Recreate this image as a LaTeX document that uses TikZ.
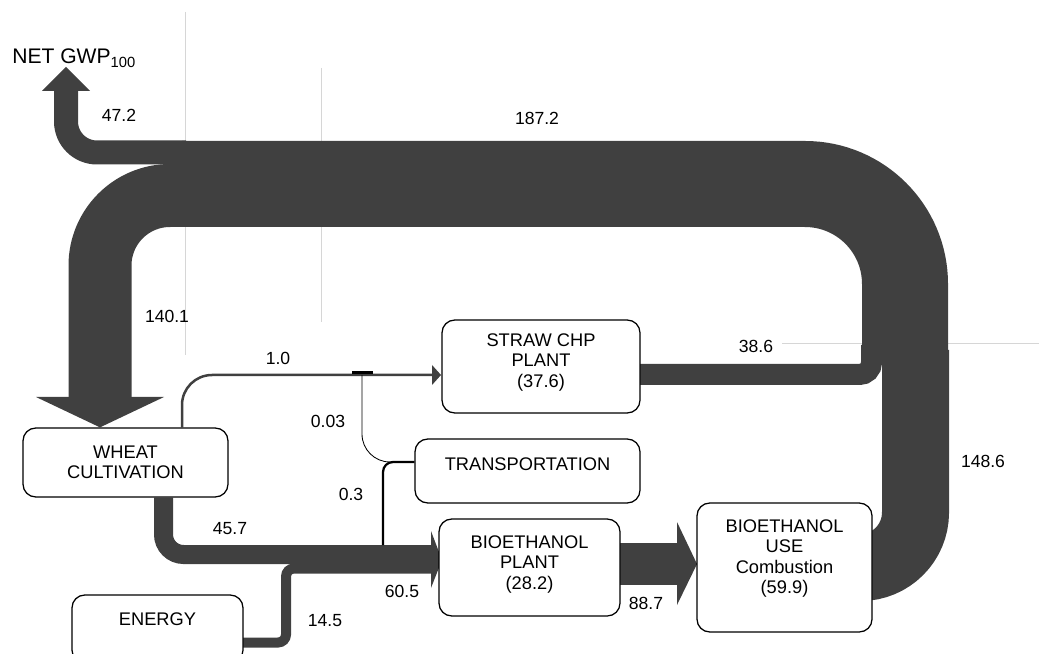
\documentclass[tikz,border=0pt]{standalone}
\usepackage{fontspec}
\setmainfont{Liberation Sans}
\usetikzlibrary{calc, backgrounds}

\definecolor{flowgray}{RGB}{64,64,64}
\definecolor{guidegray}{RGB}{214,214,214}

\begin{document}
\begin{tikzpicture}[
    x=0.25mm, y=-0.25mm,
    box/.style={draw, line width=0.9pt, rounded corners=3.2mm, fill=white,
                align=center, font=\fontsize{13}{14.5}\selectfont},
    lbl/.style={anchor=base, inner sep=0pt, font=\fontsize{12.5}{14}\selectfont},
    flow/.style={draw=flowgray, line width=#1*0.25mm},
    head/.style={fill=flowgray},
    thinline/.style={draw=black, line width=0.6pt},
    tieline/.style={draw=black, line width=1.6pt},
    gridline/.style={draw=guidegray, line width=0.6pt},
]
\useasboundingbox (0,0) rectangle (1039,654);

% Boxes (pixel grid, y runs down)
\node[box, minimum width=51.25mm, minimum height=17.25mm] (wheat) at (125.5,462.5) {WHEAT\\CULTIVATION};
\node[box, minimum width=42.75mm, minimum height=17mm, text depth=13.5pt] (energy) at (157.5,629) {ENERGY};
\node[box, minimum width=49.5mm, minimum height=23.25mm, text depth=8.5pt] (straw) at (541,366.5) {STRAW CHP\\PLANT\\(37.6)};
\node[box, minimum width=56.25mm, minimum height=16mm, text depth=10pt] (transp) at (527.5,471) {TRANSPORTATION};
\node[box, minimum width=45.25mm, minimum height=24.25mm, text depth=7pt] (bioplant) at (529.5,567.5) {BIOETHANOL\\PLANT\\(28.2)};
\node[box, minimum width=43.75mm, minimum height=32.25mm, text depth=15.5pt] (biouse) at (784.5,567.5) {BIOETHANOL\\USE\\Combustion\\(59.9)};
\node[anchor=base west, inner sep=0pt, font=\fontsize{15}{18}\selectfont] (gwp) at (12,64) {NET GWP\textsubscript{100}};

% Flow values
\node[lbl] (v472)  at (119,122) {47.2};
\node[lbl] (v1872) at (537,125) {187.2};
\node[lbl] (v1401) at (167,323) {140.1};
\node[lbl] (v10)   at (278,365) {1.0};
\node[lbl] (v003)  at (328,427) {0.03};
\node[lbl] (v03)   at (351,500) {0.3};
\node[lbl] (v457)  at (230,534) {45.7};
\node[lbl] (v605)  at (402,597) {60.5};
\node[lbl] (v145)  at (325,626) {14.5};
\node[lbl] (v887)  at (646,609) {88.7};
\node[lbl] (v386)  at (756,353) {38.6};
\node[lbl] (v1486) at (983,467) {148.6};

\begin{scope}[on background layer]
    % faint guide lines
    \draw[gridline] (185,12) -- (185,355);
    \draw[gridline] (321,68) -- (321,322);
    \draw[gridline] (782,343) -- (1039,343);

    % big loop
    \coordinate (loopL) at (182,184);
    \coordinate (merge) at (905,358);
    \coordinate (gwptip) at (66,67);
    \draw[flow=86, rounded corners=25mm] (loopL) -| (merge);
    \draw[flow=24, rounded corners=7.75mm] (186,152.5) -| (66,91);
    \fill[head] (42,91) -- (90,91) -- (gwptip) -- cycle;
    \draw[flow=63, rounded corners=17.5mm] (186,195.5) -| (100,398);
    \fill[head] (36,397) -- (164,397) -- ($(wheat.north)+(-25.5,0)$) -- cycle;

    % back into the loop
    \draw[flow=67, rounded corners=13.75mm] (biouse.center) -| (915.5,350);
    \draw[flow=21, rounded corners=3mm] ($(straw.east)+(-5,8)$) -| (871.5,345);

    % into bioethanol plant
    \draw[flow=19, rounded corners=5mm] ($(wheat.south)+(38,0)$) |- (432,554.5);
    \draw[flow=10, rounded corners=2mm] ($(energy.east)+(-3,13.5)$) -| (286,568.5) -- (432,568.5);
    \fill[head] (431,531) -- (431,588) -- (442,560) -- cycle;

    % bioethanol plant -> use
    \draw[flow=42] ($(bioplant.east)+(-3,-3.5)$) -- (678,564);
    \fill[head] (677,522) -- (677,605) -- (697,564) -- cycle;

    % straw line and transport
    \draw[flow=2.5, rounded corners=7.5mm] ($(wheat.north)+(56.5,0)$) |- (433,375);
    \fill[head] (432,365) -- (432,385) -- (441,375) -- cycle;
    \draw[line width=0.6mm] (352,372.5) -- (373,372.5);
    \draw[thinline, rounded corners=7mm] (362,375) |- ($(transp.west)+(0,-9)$);
    \draw[tieline, rounded corners=2.5mm] ($(transp.west)+(0,-9)$) -| (383,545);
\end{scope}
\end{tikzpicture}
\end{document}
